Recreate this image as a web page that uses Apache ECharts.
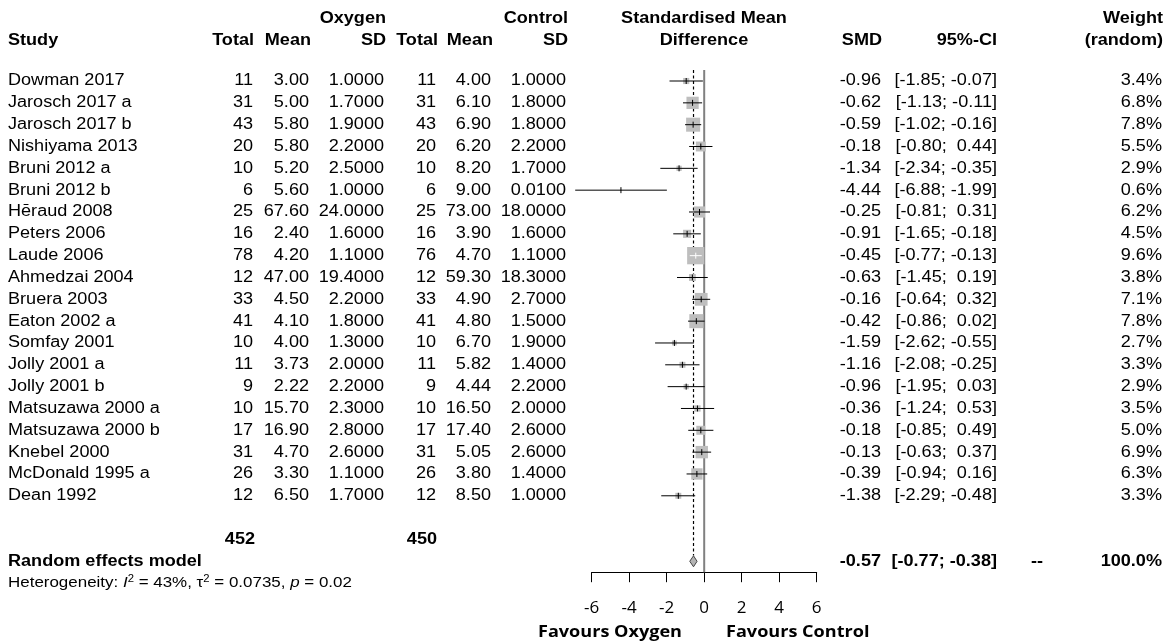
<!DOCTYPE html>
<html>
<head>
<meta charset="utf-8">
<title>Forest plot</title>
<script src="https://cdn.jsdelivr.net/npm/echarts@6/dist/echarts.min.js"></script>
<style>
  html, body { margin: 0; padding: 0; background: #fff; }
  #chart { width: 1170px; height: 642px; }
</style>
</head>
<body>
<div id="chart"></div>
<script type="text/javascript">
// study data
var studies = ['Dowman 2017', 'Jarosch 2017 a', 'Jarosch 2017 b', 'Nishiyama 2013', 'Bruni 2012 a', 'Bruni 2012 b',
  'Hēraud 2008', 'Peters 2006', 'Laude 2006', 'Ahmedzai 2004', 'Bruera 2003', 'Eaton 2002 a', 'Somfay 2001',
  'Jolly 2001 a', 'Jolly 2001 b', 'Matsuzawa 2000 a', 'Matsuzawa 2000 b', 'Knebel 2000', 'McDonald 1995 a', 'Dean 1992'];
var oxyTotal = [11, 31, 43, 20, 10, 6, 25, 16, 78, 12, 33, 41, 10, 11, 9, 10, 17, 31, 26, 12];
var oxyMean = ['3.00', '5.00', '5.80', '5.80', '5.20', '5.60', '67.60', '2.40', '4.20', '47.00', '4.50', '4.10', '4.00', '3.73', '2.22', '15.70', '16.90', '4.70', '3.30', '6.50'];
var oxySD = ['1.0000', '1.7000', '1.9000', '2.2000', '2.5000', '1.0000', '24.0000', '1.6000', '1.1000', '19.4000', '2.2000', '1.8000', '1.3000', '2.0000', '2.2000', '2.3000', '2.8000', '2.6000', '1.1000', '1.7000'];
var ctlTotal = [11, 31, 43, 20, 10, 6, 25, 16, 76, 12, 33, 41, 10, 11, 9, 10, 17, 31, 26, 12];
var ctlMean = ['4.00', '6.10', '6.90', '6.20', '8.20', '9.00', '73.00', '3.90', '4.70', '59.30', '4.90', '4.80', '6.70', '5.82', '4.44', '16.50', '17.40', '5.05', '3.80', '8.50'];
var ctlSD = ['1.0000', '1.8000', '1.8000', '2.2000', '1.7000', '0.0100', '18.0000', '1.6000', '1.1000', '18.3000', '2.7000', '1.5000', '1.9000', '1.4000', '2.2000', '2.0000', '2.6000', '2.6000', '1.4000', '1.0000'];
var smd = [-0.96, -0.62, -0.59, -0.18, -1.34, -4.44, -0.25, -0.91, -0.45, -0.63, -0.16, -0.42, -1.59, -1.16, -0.96, -0.36, -0.18, -0.13, -0.39, -1.38];
var ciLow = [-1.85, -1.13, -1.02, -0.80, -2.34, -6.88, -0.81, -1.65, -0.77, -1.45, -0.64, -0.86, -2.62, -2.08, -1.95, -1.24, -0.85, -0.63, -0.94, -2.29];
var ciHigh = [-0.07, -0.11, -0.16, 0.44, -0.35, -1.99, 0.31, -0.18, -0.13, 0.19, 0.32, 0.02, -0.55, -0.25, 0.03, 0.53, 0.49, 0.37, 0.16, -0.48];
var weight = [3.4, 6.8, 7.8, 5.5, 2.9, 0.6, 6.2, 4.5, 9.6, 3.8, 7.1, 7.8, 2.7, 3.3, 2.9, 3.5, 5.0, 6.9, 6.3, 3.3];

// pooled (random effects)
var totals = [452, 450];
var pooled = [-0.57, -0.77, -0.38];
var xTicks = [-6, -4, -2, 0, 2, 4, 6];

var FONT = 'Liberation Sans, Arial, sans-serif';
var SX = 1.13; // text in the picture is a bit wide
var nRow = studies.length;
var sumRow = nRow + 1;    // row with 452 / 450
var modelRow = nRow + 2;  // random effects model

function fmt(v) { return v.toFixed(2); }
function ci(l, h) { return '[' + fmt(l) + '; ' + (h < 0 ? '' : ' ') + fmt(h) + ']'; }

var chart = echarts.init(document.getElementById('chart'));

function txt(x, y, s, align, bold, size, family) {
  return {
    type: 'text', x: x, y: y, scaleX: SX, silent: true,
    style: { text: s, textAlign: align, textVerticalAlign: 'middle', fill: '#000',
      font: (bold ? 'bold ' : '') + (size || 16) + 'px ' + (family || FONT) }
  };
}

// header texts
var headers = [
  txt(386, 18.5, 'Oxygen', 'right', true), txt(568, 18.5, 'Control', 'right', true),
  txt(704, 18.5, 'Standardised Mean', 'center', true), txt(1163, 18.5, 'Weight', 'right', true),
  txt(8, 40.5, 'Study', 'left', true), txt(254, 40.5, 'Total', 'right', true), txt(311, 40.5, 'Mean', 'right', true),
  txt(386, 40.5, 'SD', 'right', true), txt(438, 40.5, 'Total', 'right', true), txt(493, 40.5, 'Mean', 'right', true),
  txt(568, 40.5, 'SD', 'right', true), txt(704, 40.5, 'Difference', 'center', true),
  txt(882, 40.5, 'SMD', 'right', true), txt(997, 40.5, '95%-CI', 'right', true), txt(1163, 40.5, '(random)', 'right', true),
  txt(682, 632, 'Favours Oxygen', 'right', true, 16, 'Open Sans'),
  txt(726, 632, 'Favours Control', 'left', true, 16, 'Open Sans')
];

var markerData = studies.map(function (s, i) { return [i, smd[i], ciLow[i], ciHigh[i], weight[i]]; });

option = {
  animation: false,
  grid: { left: 591.7, right: 353.3, top: 70.1, bottom: 69.8 },
  xAxis: {
    type: 'value', min: -6, max: 6, interval: 2,
    axisLine: { show: true, onZero: false, lineStyle: { color: '#000', width: 1 } },
    axisTick: { show: true, length: 10, lineStyle: { color: '#000', width: 1 } },
    splitLine: { show: false },
    axisLabel: { fontFamily: 'Open Sans', fontSize: 17, color: '#000', margin: 27,
      customValues: xTicks }
  },
  yAxis: { type: 'value', inverse: true, min: -0.5, max: 22.5, show: false },
  graphic: headers,
  series: [
    {
      // line of no effect
      type: 'line', symbol: 'none', silent: true, z: 1,
      lineStyle: { color: '#808080', width: 2 },
      data: [[0, -0.5], [0, 22.5]]
    },
    {
      // pooled estimate
      type: 'line', symbol: 'none', silent: true, z: 1,
      lineStyle: { color: '#000', width: 1.2, type: [3, 2.5] },
      data: [[pooled[0], -0.5], [pooled[0], modelRow - 0.26]]
    },
    {
      type: 'custom', clip: false, silent: true, z: 3,
      data: markerData,
      encode: { x: [1, 2, 3], y: 0 },
      renderItem: function (params, api) {
        var row = api.value(0);
        var c = api.coord([api.value(1), row]);
        var l = api.coord([api.value(2), row]);
        var h = api.coord([api.value(3), row]);
        var s = api.value(4) * 1.8;
        var col = (h[0] - l[0]) < s ? '#fff' : '#000';
        return {
          type: 'group',
          children: [
            { type: 'rect', shape: { x: c[0] - s / 2, y: c[1] - s / 2, width: s, height: s }, style: { fill: '#bebebe' } },
            { type: 'line', shape: { x1: l[0], y1: c[1], x2: h[0], y2: c[1] }, style: { stroke: col, lineWidth: 1 } },
            { type: 'line', shape: { x1: c[0], y1: c[1] - 3, x2: c[0], y2: c[1] + 3 }, style: { stroke: col, lineWidth: 1 } }
          ]
        };
      }
    },
    {
      // diamond
      type: 'custom', clip: false, silent: true, z: 3,
      data: [[modelRow, pooled[0], pooled[1], pooled[2]]],
      encode: { x: [1, 2, 3], y: 0 },
      renderItem: function (params, api) {
        var row = api.value(0);
        var c = api.coord([api.value(1), row]);
        var l = api.coord([api.value(2), row]);
        var h = api.coord([api.value(3), row]);
        return {
          type: 'polygon',
          shape: { points: [[l[0], c[1]], [c[0], c[1] - 5.5], [h[0], c[1]], [c[0], c[1] + 5.5]] },
          style: { fill: '#b4b4b4', stroke: '#444', lineWidth: 1 }
        };
      }
    },
    {
      // table text per study
      type: 'custom', clip: false, silent: true,
      data: markerData,
      encode: { y: 0 },
      renderItem: function (params, api) {
        var i = params.dataIndex;
        var y = api.coord([0, api.value(0)])[1];
        return {
          type: 'group',
          children: [
            txt(8, y, studies[i], 'left'),
            txt(253, y, String(oxyTotal[i]), 'right'),
            txt(309, y, oxyMean[i], 'right'),
            txt(384, y, oxySD[i], 'right'),
            txt(436, y, String(ctlTotal[i]), 'right'),
            txt(491, y, ctlMean[i], 'right'),
            txt(566, y, ctlSD[i], 'right'),
            txt(881, y, fmt(smd[i]), 'right'),
            txt(997, y, ci(ciLow[i], ciHigh[i]), 'right'),
            txt(1162, y, weight[i].toFixed(1) + '%', 'right')
          ]
        };
      }
    },
    {
      // summary rows
      type: 'custom', clip: false, silent: true,
      data: [[sumRow]],
      encode: { y: 0 },
      renderItem: function (params, api) {
        var y1 = api.coord([0, sumRow])[1];
        var y2 = api.coord([0, modelRow])[1];
        var y3 = api.coord([0, modelRow + 1])[1];
        return {
          type: 'group',
          children: [
            txt(255, y1, String(totals[0]), 'right', true),
            txt(437, y1, String(totals[1]), 'right', true),
            txt(8, y2, 'Random effects model', 'left', true),
            txt(881, y2, fmt(pooled[0]), 'right', true),
            txt(997, y2, ci(pooled[1], pooled[2]), 'right', true),
            txt(1043, y2, '--', 'right', true),
            txt(1162, y2, '100.0%', 'right', true),
            {
              type: 'text', x: 8, y: y3, scaleX: SX,
              style: {
                text: 'Heterogeneity: {i|I}{sup|2} = 43%, τ{sup|2} = 0.0735, {i|p} = 0.02',
                textVerticalAlign: 'middle', fill: '#000', font: '15px ' + FONT,
                rich: {
                  i: { fontStyle: 'italic', fontSize: 15, fontFamily: FONT },
                  sup: { fontSize: 10, fontFamily: FONT, verticalAlign: 'top', lineHeight: 18 }
                }
              }
            }
          ]
        };
      }
    }
  ]
};
chart.setOption(option);
</script>
</body>
</html>
